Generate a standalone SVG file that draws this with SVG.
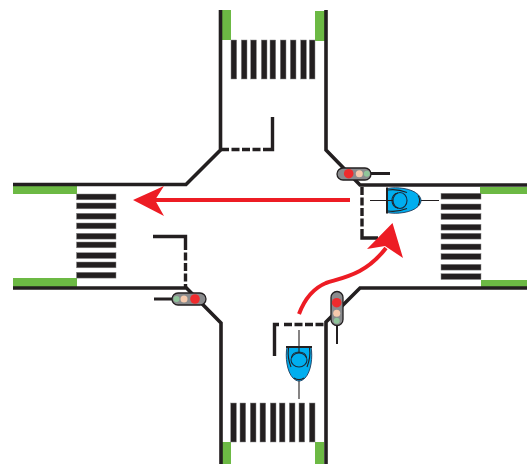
<svg xmlns="http://www.w3.org/2000/svg" width="527" height="464" viewBox="0 0 527 464">
<style>
.road{fill:none;stroke:#231f20;stroke-width:3.6;stroke-linejoin:miter}
.stop{fill:none;stroke:#231f20;stroke-width:3.4}
.bar{fill:#231f20;stroke:#8a8a8a;stroke-width:.5}
.green{fill:#6cb944}
.red{fill:none;stroke:#ed1c24;stroke-width:4}
.head{fill:#ed1c24}
.stem{fill:none;stroke:#231f20;stroke-width:3}
.body{fill:#8a8b8d;stroke:#231f20;stroke-width:1.300}
.bike{fill:none;stroke:#231f20;stroke-width:1.100}
.blue{fill:#00aeef;stroke:#1b3a5c;stroke-width:.9}
</style>
<defs>
<g id="bike">
<path class="bike" d="M0 -17V0M0 34V52"/>
<path class="blue" d="M-12 0C-14 10 -12 25 -6 31C-2 35 2 35 6 31C12 25 14 10 12 0Z"/>
<path d="M-13 0H13" fill="none" stroke="#231f20" stroke-width="2"/>
<path class="bike" d="M-10.500 1C-11.500 8 -10 15 -8 20M10.500 1C11.500 8 10 15 8 20M-5 31C-2 33 2 33 5 31"/>
<ellipse cx="0" cy="13" rx="8" ry="7" fill="#00aeef" stroke="#1b2a3c" stroke-width="1.100"/>
<path class="bike" d="M-7.500 11C-7 3 7 3 7.500 11M0 0V6"/>
</g>
</defs>
<g id="green-zones">
<rect class="green" x="222" y="10" width="9" height="30"/>
<rect class="green" x="315" y="11" width="10" height="30"/>
<rect class="green" x="222" y="442" width="9" height="22"/>
<rect class="green" x="315" y="442" width="9" height="22"/>
<rect class="green" x="13" y="186" width="64" height="8"/>
<rect class="green" x="13" y="278" width="64" height="9"/>
<rect class="green" x="480" y="187" width="47" height="7"/>
<rect class="green" x="481" y="280" width="46" height="7"/>
</g>
<g id="crossing-north">
<rect class="bar" x="231" y="40" width="5.700" height="39"/><rect class="bar" x="241.300" y="40" width="5.700" height="39"/><rect class="bar" x="250.700" y="40" width="5.700" height="39"/><rect class="bar" x="261.300" y="40" width="5.700" height="39"/><rect class="bar" x="270" y="40" width="5.700" height="39"/><rect class="bar" x="280.300" y="40" width="5.700" height="39"/><rect class="bar" x="290.300" y="40" width="5.700" height="39"/><rect class="bar" x="300.700" y="40" width="5.700" height="39"/><rect class="bar" x="309.300" y="40" width="5.700" height="39"/>
</g>
<g id="crossing-south">
<rect class="bar" x="230.700" y="403" width="5.700" height="39"/><rect class="bar" x="240" y="403" width="5.700" height="39"/><rect class="bar" x="250.300" y="403" width="5.700" height="39"/><rect class="bar" x="260" y="403" width="5.700" height="39"/><rect class="bar" x="270.300" y="403" width="5.700" height="39"/><rect class="bar" x="279.300" y="403" width="5.700" height="39"/><rect class="bar" x="289.300" y="403" width="5.700" height="39"/><rect class="bar" x="299" y="403" width="5.700" height="39"/><rect class="bar" x="309.300" y="403" width="5.700" height="39"/>
</g>
<g id="crossing-west">
<rect class="bar" x="76.500" y="194" width="39.500" height="5.800"/><rect class="bar" x="76.500" y="203" width="39.500" height="5.800"/><rect class="bar" x="76.500" y="213.300" width="39.500" height="5.800"/><rect class="bar" x="76.500" y="223" width="39.500" height="5.800"/><rect class="bar" x="76.500" y="233.300" width="39.500" height="5.800"/><rect class="bar" x="76.500" y="242" width="39.500" height="5.800"/><rect class="bar" x="76.500" y="252.700" width="39.500" height="5.800"/><rect class="bar" x="76.500" y="262" width="39.500" height="5.800"/><rect class="bar" x="76.500" y="272.300" width="39.500" height="5.800"/>
</g>
<g id="crossing-east">
<rect class="bar" x="441" y="193.300" width="40" height="5.800"/><rect class="bar" x="441" y="204" width="40" height="5.800"/><rect class="bar" x="441" y="213.700" width="40" height="5.800"/><rect class="bar" x="441" y="224.300" width="40" height="5.800"/><rect class="bar" x="441" y="233.300" width="40" height="5.800"/><rect class="bar" x="441" y="244" width="40" height="5.800"/><rect class="bar" x="441" y="253.700" width="40" height="5.800"/><rect class="bar" x="441" y="264.300" width="40" height="5.800"/><rect class="bar" x="441" y="273.700" width="40" height="5.800"/>
</g>
<g id="road-edges">
<path class="road" d="M220.500 10V150L186 184.500H13"/>
<path class="road" d="M326 10V150L360 185H527"/>
<path class="road" d="M13 288H186.500L221 323V464"/>
<path class="road" d="M527 288H360L326 322V464"/>
</g>
<g id="stop-lines">
<path class="stop" d="M272.500 117V149.500H268"/>
<path class="stop" d="M221 149.500H268" stroke-dasharray="8 2.500"/>
<path class="stop" d="M153 236.500H185.500V242"/>
<path class="stop" d="M185.500 242V288" stroke-dasharray="8 2.500"/>
<path class="stop" d="M362 187V232" stroke-dasharray="8 2.500"/>
<path class="stop" d="M362 232V238H378"/>
<path class="stop" d="M274.500 356V324.500H279"/>
<path class="stop" d="M284 324.500H326" stroke-dasharray="8 2.500"/>
</g>
<g id="arrows">
<path class="red" d="M350 200H155"/>
<path class="head" d="M133 200L164 186L155 200L164 216Z"/>
<path class="red" d="M299 314C305 298 314 288 326 283C345 277 366 274 386 248"/>
<path class="head" d="M392.500 223L403 258L385 246L367 249Z"/>
</g>
<g id="bike-south"><use href="#bike" x="299" y="347"/></g>
<g id="bike-east"><use href="#bike" transform="translate(387 200.500) rotate(-90)"/></g>
<g id="signal-ne">
<path class="stem" d="M370 173.500H390"/>
<rect class="body" x="337" y="168" width="34" height="12" rx="6"/>
<circle cx="348.700" cy="173.700" r="4.800" fill="#ef2b2d"/><circle cx="359.300" cy="173.700" r="3.500" fill="#f6c9ac"/><circle cx="366.800" cy="173.700" r="3" fill="#8fc59a"/>
</g>
<g id="signal-sw">
<path class="stem" d="M154 299H172"/>
<rect class="body" x="172" y="293" width="34" height="12" rx="6"/>
<circle cx="195" cy="299" r="4.800" fill="#ef2b2d"/><circle cx="184" cy="299" r="3.500" fill="#f6c9ac"/><circle cx="176.500" cy="299" r="3" fill="#8fc59a"/>
</g>
<g id="signal-se">
<path class="stem" d="M337 325V344" style="stroke-width:2"/>
<rect class="body" x="331" y="291.500" width="12" height="34" rx="6"/>
<circle cx="336.700" cy="302.700" r="4.800" fill="#ef2b2d"/><circle cx="336.700" cy="313.300" r="3.500" fill="#f6c9ac"/><circle cx="336.700" cy="320.800" r="3" fill="#8fc59a"/>
</g>
</svg>
